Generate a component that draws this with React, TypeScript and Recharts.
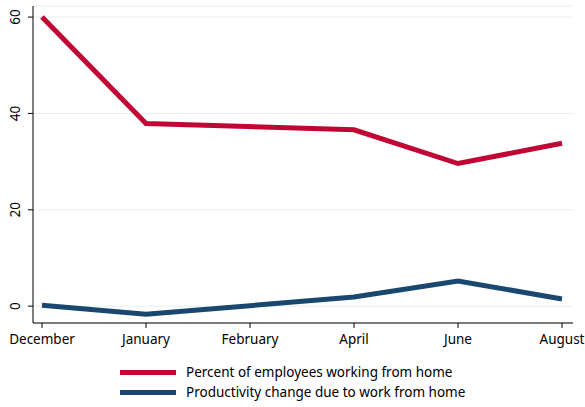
import { LineChart, Line, XAxis, YAxis, CartesianGrid, Legend } from "recharts";

const months = ["December", "January", "February", "April", "June", "August"];
const wfhPercent = [60, 37.9, null, 36.6, 29.6, 33.8];
const productivity = [0.2, -1.7, null, 1.9, 5.2, 1.5];
const yTicks = [0, 20, 40, 60];

const RED = "#c10534";
const BLUE = "#1a476f";
const FONT = "'Noto Sans', 'Open Sans', sans-serif";

const data = months.map((m, i) => ({ month: m, wfh: wfhPercent[i], prod: productivity[i] }));

function YTick({ x, y, payload }: any) {
  return (
    <text
      x={x - 6}
      y={y}
      transform={`rotate(-90, ${x - 6}, ${y})`}
      textAnchor="middle"
      fontSize={13.5}
      fontFamily={FONT}
      fill="#000"
    >
      {payload.value}
    </text>
  );
}

function LegendBox() {
  const items = [
    { label: "Percent of employees working from home", color: RED },
    { label: "Productivity change due to work from home", color: BLUE },
  ];
  return (
    <div style={{ fontFamily: FONT, fontSize: 13.5, color: "#000" }}>
      {items.map((it) => (
        <div key={it.label} style={{ display: "flex", alignItems: "center", height: 20 }}>
          <div style={{ width: 56, height: 5, background: it.color, marginRight: 10 }} />
          <span>{it.label}</span>
        </div>
      ))}
    </div>
  );
}

export default function App() {
  return (
    <div style={{ position: "absolute", left: 0, top: 0, background: "#fff" }}>
      <LineChart width={585} height={407} data={data} margin={{ top: 6, right: 12, left: 0, bottom: 14 }}>
        <CartesianGrid vertical={false} stroke="#e4eef0" strokeWidth={1} />
        <XAxis
          dataKey="month"
          padding={{ left: 9, right: 11 }}
          axisLine={{ stroke: "#000" }}
          tickLine={{ stroke: "#000" }}
          tickSize={5}
          tickMargin={6}
          height={30}
          tick={{ fontSize: 13.5, fontFamily: FONT, fill: "#000" }}
          interval={0}
        />
        <YAxis
          width={33}
          domain={[-3.5, 62.3]}
          ticks={yTicks}
          allowDataOverflow
          axisLine={{ stroke: "#000" }}
          tickLine={{ stroke: "#000" }}
          tickSize={5}
          tick={<YTick />}
        />
        <Legend
          layout="vertical"
          content={<LegendBox />}
          wrapperStyle={{ position: "absolute", left: 120, top: 362, width: 420 }}
        />
        <Line
          dataKey="wfh"
          stroke={RED}
          strokeWidth={5}
          dot={false}
          connectNulls
          isAnimationActive={false}
        />
        <Line
          dataKey="prod"
          stroke={BLUE}
          strokeWidth={5}
          dot={false}
          connectNulls
          isAnimationActive={false}
        />
      </LineChart>
    </div>
  );
}
